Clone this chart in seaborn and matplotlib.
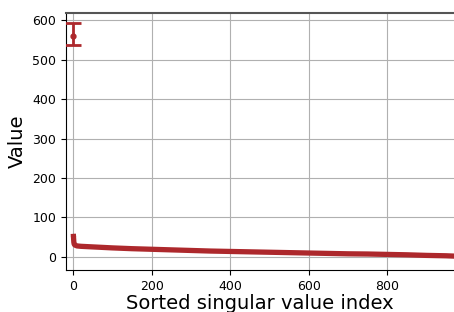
import numpy as np
import pandas as pd
import matplotlib
matplotlib.use("Agg")
import matplotlib.pyplot as plt
import seaborn as sns

# largest singular value with its interval
top_index = [0]
top_value = [560]
top_low = [536]
top_high = [592]

# remaining sorted singular values
tail_index = [1, 2, 3, 5, 10, 20, 40, 60, 80, 100, 150, 200, 250, 300, 350,
              400, 450, 500, 550, 600, 650, 700, 750, 800, 850, 900, 950, 975]
tail_value = [52, 37, 32, 30, 28, 27, 26, 25, 24, 23, 21, 19.5, 18, 16.5, 15,
              14, 13, 12, 11, 10, 9, 8, 7.5, 6.5, 5.5, 4, 3, 2]

color = "#ad282c"

tail = pd.DataFrame({"index": tail_index, "value": tail_value})

fig = plt.figure(figsize=(4.54, 3.12), dpi=100)
ax = fig.add_axes([66 / 454, 42 / 312, 388 / 454, 257 / 312])

ax.grid(True, color="#b0b0b0", linewidth=0.8)
ax.set_axisbelow(True)

sns.lineplot(data=tail, x="index", y="value", color=color, linewidth=3.8,
             ax=ax, zorder=3)
sns.scatterplot(x=tail_index[:1], y=tail_value[:1], color=color, s=12,
                edgecolor=color, ax=ax, zorder=4)

err = [[top_value[0] - top_low[0]], [top_high[0] - top_value[0]]]
ax.errorbar(top_index, top_value, yerr=err, fmt="o", color=color,
            markersize=3.5, elinewidth=2, capsize=6, capthick=2, zorder=4)

ax.set_xlim(-18, 970)
ax.set_ylim(-33, 618)
ax.set_xticks([0, 200, 400, 600, 800])
ax.set_yticks([0, 100, 200, 300, 400, 500, 600])
ax.tick_params(labelsize=9)

ax.set_xlabel("Sorted singular value index", fontsize=14, labelpad=1)
ax.set_ylabel("Value", fontsize=14)

ax.spines["right"].set_visible(False)
ax.spines["top"].set_color("#555555")
ax.spines["top"].set_linewidth(1.5)

fig.savefig("out.png", dpi=100)
